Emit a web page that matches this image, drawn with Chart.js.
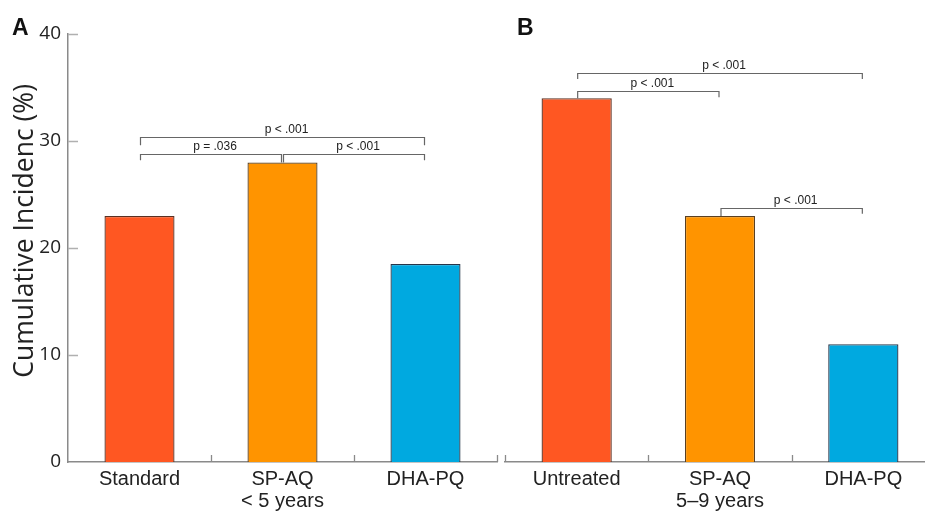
<!DOCTYPE html>
<html><head><meta charset="utf-8">
<script src="https://cdn.jsdelivr.net/npm/chart.js@4/dist/chart.umd.min.js"></script>
<style>
html,body{margin:0;padding:0;background:#fff;overflow:hidden;width:925px;height:513px}
#wrap{position:relative;width:925px;height:513px;overflow:hidden;background:#fff}
#ca{position:absolute;left:0;top:0}
#cb{position:absolute;left:500px;top:0}
.pl{position:absolute;font:bold 23px "Liberation Sans",Arial,sans-serif;color:#111;line-height:23px;margin:0}
</style></head><body>
<div id="wrap">
<canvas id="ca" width="500" height="513"></canvas>
<canvas id="cb" width="440" height="513"></canvas>
<div class="pl" style="left:12px;top:16px">A</div>
<div class="pl" style="left:517px;top:16px">B</div>
</div>
<script>
// ---- data ----
const yTicks = [0, 10, 20, 30, 40];
const yTitle = 'Cumulative Incidenc (%)';
const categoriesA = ['Standard', 'SP-AQ', 'DHA-PQ'];
const groupA = '< 5 years';
const valuesA = [23, 28, 18.5];
const categoriesB = ['Untreated', 'SP-AQ', 'DHA-PQ'];
const groupB = '5\u20139 years';
const valuesB = [34, 23, 11];
// comparisons: [fromIndex, toIndex, bracketLevel, leftEndLevel, rightEndLevel, label]
const comparisonsA = [
  [0, 2, 30.4, 29.6, 29.6, 'p < .001'],
  [0, 1, 28.8, 28.2, 28.0, 'p = .036'],
  [1, 2, 28.8, 28.0, 28.2, 'p < .001']
];
const comparisonsB = [
  [0, 2, 36.4, 35.8, 35.8, 'p < .001'],
  [0, 1, 34.7, 34.0, 34.1, 'p < .001'],
  [1, 2, 23.7, 23.0, 23.2, 'p < .001']
];
const barColors = ['#FF5722', '#FF9400', '#00A9E0'];
const barBorders = ['#5a3022', '#5a4022', '#27364a'];

const AXIS = '#8a8a8a';
const TXT = '#222';

function makeLabels(cats, group) {
  return cats.map((c, i) => i === 1 ? [c, group] : c);
}

function panelPlugin(comps, showY, leftTick) {
  return {
    id: 'panelDeco',
    afterDraw(chart) {
      const ctx = chart.ctx, xs = chart.scales.x, ys = chart.scales.y;
      const n = chart.data.labels.length;
      const bottom = ys.getPixelForValue(0);
      ctx.save();
      ctx.strokeStyle = AXIS;
      ctx.lineWidth = 1.3;
      // x ticks (inward) at category boundaries
      ctx.beginPath();
      for (let i = leftTick ? 0 : 1; i <= n; i++) {
        const x = Math.round(xs.getPixelForValue(i - 0.5)) + 0.5;
        ctx.moveTo(x, bottom);
        ctx.lineTo(x, bottom - 7);
      }
      ctx.stroke();
      if (showY) {
        // y ticks (inward)
        ctx.strokeStyle = '#b0b0b0';
        ctx.beginPath();
        yTicks.forEach(v => {
          if (v === 0) return;
          const y = Math.round(ys.getPixelForValue(v)) + 0.5;
          ctx.moveTo(xs.left, y);
          ctx.lineTo(xs.left + 10, y);
        });
        ctx.stroke();
        // y axis title
        ctx.save();
        ctx.translate(25, ys.getPixelForValue(21.6));
        ctx.rotate(-Math.PI / 2);
        ctx.fillStyle = TXT;
        ctx.font = '26.5px "Open Sans", sans-serif';
        ctx.textAlign = 'center';
        ctx.textBaseline = 'middle';
        ctx.fillText(yTitle, 0, 0);
        ctx.restore();
      }
      // significance brackets
      ctx.strokeStyle = '#666';
      ctx.lineWidth = 1.2;
      ctx.fillStyle = TXT;
      ctx.font = '12px "Liberation Sans", Arial, sans-serif';
      ctx.textAlign = 'center';
      ctx.textBaseline = 'alphabetic';
      comps.forEach(([a, b, lvl, le, re, lab]) => {
        const xl = xs.getPixelForValue(a) + 1;
        const xr = xs.getPixelForValue(b) - 1;
        const y = Math.round(ys.getPixelForValue(lvl)) + 0.5;
        ctx.beginPath();
        ctx.moveTo(xl, ys.getPixelForValue(le));
        ctx.lineTo(xl, y);
        ctx.lineTo(xr, y);
        ctx.lineTo(xr, ys.getPixelForValue(re));
        ctx.stroke();
        ctx.fillText(lab, (xl + xr) / 2 + 4, y - 5);
      });
      ctx.restore();
    }
  };
}

function makeChart(id, cats, group, vals, comps, showY, pad, leftTick) {
  return new Chart(document.getElementById(id), {
    type: 'bar',
    data: {
      labels: makeLabels(cats, group),
      datasets: [{
        data: vals,
        backgroundColor: barColors,
        borderColor: barBorders,
        borderWidth: 1.3,
        borderSkipped: 'bottom',
        categoryPercentage: 1,
        barPercentage: 0.49
      }]
    },
    options: {
      responsive: false,
      animation: false,
      devicePixelRatio: 1,
      layout: { padding: pad },
      plugins: { legend: { display: false }, tooltip: { enabled: false } },
      scales: {
        x: {
          offset: true,
          grid: { display: false, drawTicks: false },
          border: { display: true, color: AXIS, width: 1.5 },
          ticks: {
            color: TXT, padding: 6, maxRotation: 0, autoSkip: false,
            font: { family: '"Liberation Sans", Arial, sans-serif', size: 20, lineHeight: 1.12 }
          },
          afterFit(s) { s.height = 51; }
        },
        y: {
          display: showY,
          min: 0, max: 40,
          afterBuildTicks(s) { s.ticks = yTicks.map(v => ({ value: v })); },
          grid: { display: false, drawTicks: false },
          border: { display: true, color: AXIS, width: 1.5 },
          ticks: {
            color: TXT, padding: 7,
            font: { family: '"Open Sans", sans-serif', size: 19 }
          },
          afterFit(s) { if (showY) s.width = 68; }
        }
      }
    },
    plugins: [panelPlugin(comps, showY, leftTick)]
  });
}

makeChart('ca', categoriesA, groupA, valuesA, comparisonsA, true, { top: 34, left: 0, right: 3, bottom: 0 }, false);
makeChart('cb', categoriesB, groupB, valuesB, comparisonsB, false, { top: 34, left: 5, right: 5, bottom: 0 }, true);
</script>
</body></html>
